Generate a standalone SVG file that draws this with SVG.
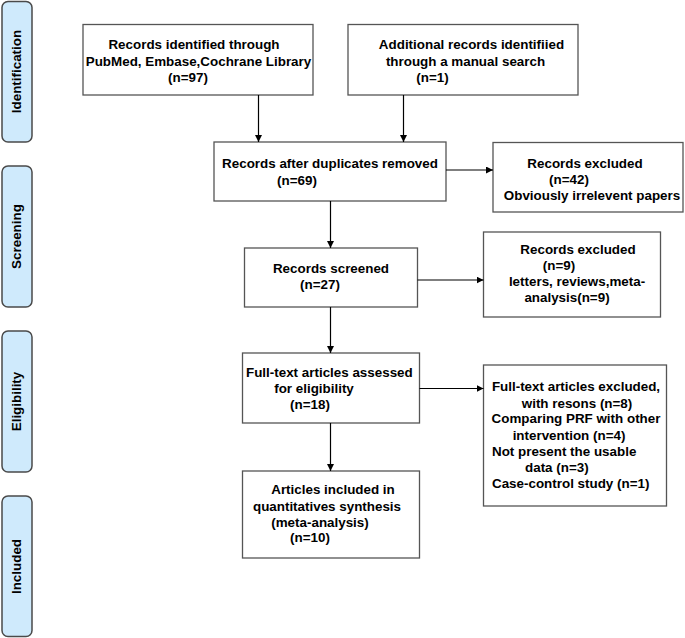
<svg xmlns="http://www.w3.org/2000/svg" width="685" height="638" viewBox="0 0 685 638">
<style>
.side rect{fill:#cfeafc;stroke:#4a4a4a;stroke-width:1.5}
.box{fill:#fff;stroke:#555;stroke-width:1.3}
text{font-family:"Liberation Sans",Arial,sans-serif;font-weight:bold;font-size:13.4px;fill:#000}
.c{text-anchor:middle}
.conn line{stroke:#000;stroke-width:1.2}
</style>
<defs>
<marker id="ah" viewBox="0 0 10 10" refX="10" refY="5" markerWidth="7" markerHeight="7" markerUnits="userSpaceOnUse" orient="auto">
<path d="M0,0 L10,5 L0,10 z" fill="#000"/>
</marker>
</defs>
<rect width="685" height="638" fill="#fff"/>
<g id="side-identification" class="side"><rect x="2" y="1.5" width="30" height="140.5" rx="6"/><text class="c" transform="translate(21,71.5) rotate(-90)">Identification</text></g>
<g id="side-screening" class="side"><rect x="2" y="166" width="30" height="141" rx="6"/><text class="c" transform="translate(21,236.5) rotate(-90)">Screening</text></g>
<g id="side-eligibility" class="side"><rect x="2" y="331" width="30" height="141" rx="6"/><text class="c" transform="translate(21,401.5) rotate(-90)">Eligibility</text></g>
<g id="side-included" class="side"><rect x="2" y="496" width="30" height="140.5" rx="6"/><text class="c" transform="translate(21,566.5) rotate(-90)">Included</text></g>

<g id="n1"><rect class="box" x="83" y="24.5" width="230" height="70.5"/>
<text class="c" x="194" y="49">Records identified through</text>
<text class="c" x="198.5" y="65.5">PubMed, Embase,Cochrane Library</text>
<text class="c" x="188" y="82">(n=97)</text></g>

<g id="n2"><rect class="box" x="348" y="24.5" width="230" height="70.5"/>
<text class="c" x="471.5" y="49">Additional records identifiied</text>
<text class="c" x="465.5" y="65.5">through a manual search</text>
<text class="c" x="432.5" y="82">(n=1)</text></g>

<g id="n3"><rect class="box" x="214" y="142" width="232" height="59"/>
<text class="c" x="330" y="168">Records after duplicates removed</text>
<text class="c" x="297" y="185">(n=69)</text></g>

<g id="n4"><rect class="box" x="493" y="142.5" width="190" height="69.5"/>
<text class="c" x="585" y="168">Records excluded</text>
<text class="c" x="569" y="184">(n=42)</text>
<text class="c" x="592" y="200">Obviously irrelevent papers</text></g>

<g id="n5"><rect class="box" x="244.5" y="248" width="173" height="59"/>
<text class="c" x="331" y="272.5">Records screened</text>
<text class="c" x="320" y="289">(n=27)</text></g>

<g id="n6"><rect class="box" x="483.5" y="232" width="177" height="85"/>
<text class="c" x="578" y="254">Records excluded</text>
<text class="c" x="559" y="270">(n=9)</text>
<text class="c" x="577" y="286">letters, reviews,meta-</text>
<text class="c" x="567" y="302">analysis(n=9)</text></g>

<g id="n7"><rect class="box" x="242.5" y="353" width="177" height="70"/>
<text x="246" y="377">Full-text articles assessed</text>
<text class="c" x="314" y="393">for eligibility</text>
<text class="c" x="310" y="409">(n=18)</text></g>

<g id="n8"><rect class="box" x="483.5" y="365" width="183" height="141"/>
<text class="c" x="576" y="391">Full-text articles excluded,</text>
<text class="c" x="577" y="407.5">with resons (n=8)</text>
<text class="c" x="576" y="423">Comparing PRF with other</text>
<text class="c" x="569" y="439.5">intervention (n=4)</text>
<text x="492" y="456">Not present the usable</text>
<text x="525" y="472">data (n=3)</text>
<text x="492" y="488">Case-control study (n=1)</text></g>

<g id="n9"><rect class="box" x="242.5" y="471" width="177" height="87"/>
<text class="c" x="333" y="494">Articles included in</text>
<text class="c" x="327" y="510.5">quantitatives synthesis</text>
<text class="c" x="320" y="527">(meta-analysis)</text>
<text class="c" x="310" y="542">(n=10)</text></g>

<g id="connectors" class="conn">
<line x1="258.5" y1="95" x2="258.5" y2="142" marker-end="url(#ah)"/>
<line x1="403.5" y1="95" x2="403.5" y2="142" marker-end="url(#ah)"/>
<line x1="446" y1="170" x2="493" y2="170" marker-end="url(#ah)"/>
<line x1="330.5" y1="201" x2="330.5" y2="248" marker-end="url(#ah)"/>
<line x1="417.5" y1="280" x2="483.5" y2="280" marker-end="url(#ah)"/>
<line x1="330.5" y1="307" x2="330.5" y2="353" marker-end="url(#ah)"/>
<line x1="419.5" y1="388.5" x2="483.5" y2="388.5" marker-end="url(#ah)"/>
<line x1="330.5" y1="423" x2="330.5" y2="471" marker-end="url(#ah)"/>
</g>
</svg>
